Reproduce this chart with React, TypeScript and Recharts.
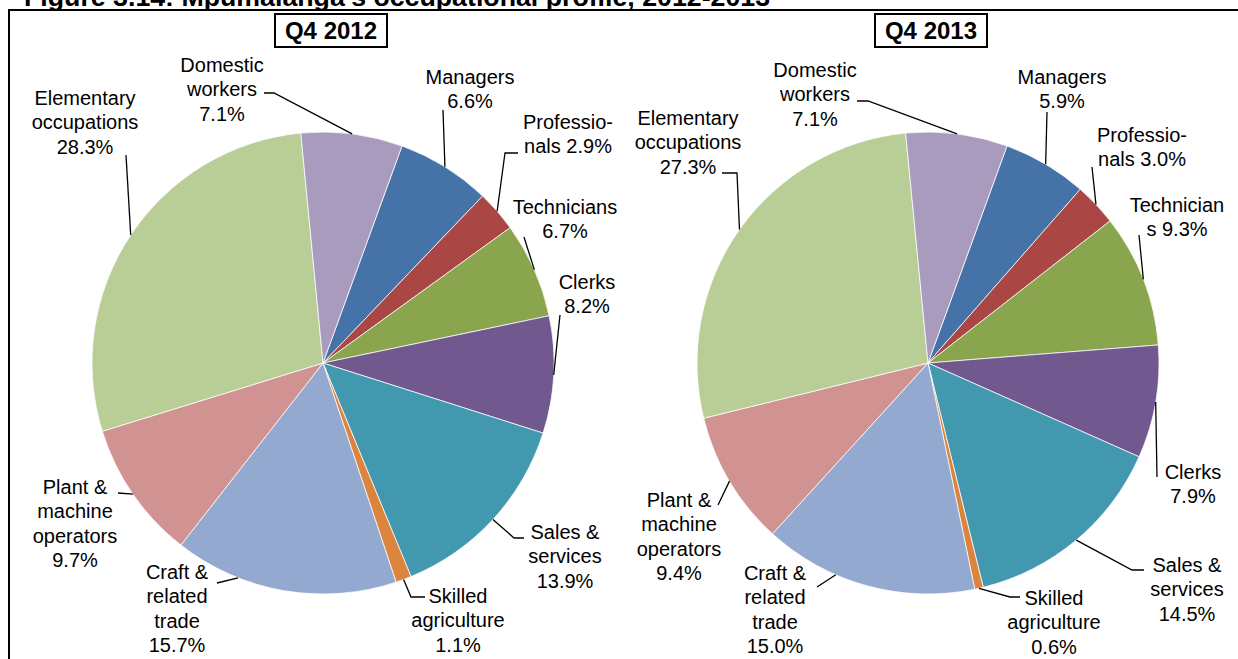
import React from "react";
import { PieChart, Pie, Cell } from "recharts";

// occupation categories, clockwise from the Managers slice
const CATEGORIES = [
  "Managers",
  "Professionals",
  "Technicians",
  "Clerks",
  "Sales & services",
  "Skilled agriculture",
  "Craft & related trade",
  "Plant & machine operators",
  "Elementary occupations",
  "Domestic workers",
];

// share of employment, %
const SHARE_Q4_2012 = [6.6, 2.9, 6.7, 8.2, 13.9, 1.1, 15.7, 9.7, 28.3, 7.1];
const SHARE_Q4_2013 = [5.9, 3.0, 9.3, 7.9, 14.5, 0.6, 15.0, 9.4, 27.3, 7.1];

const PERIODS = ["Q4 2012", "Q4 2013"];
const TITLE = "Figure 3.14: Mpumalanga's occupational profile, 2012-2013";

const COLORS = [
  "#4572A7",
  "#AA4643",
  "#89A54E",
  "#71588F",
  "#4198AF",
  "#DB843D",
  "#93A9CF",
  "#D19392",
  "#B9CD96",
  "#A99BBD",
];

const FONT = '"Liberation Sans", Arial, sans-serif';
const RAD = Math.PI / 180;

type LabelSpec = {
  t: [number, number]; // text centre, relative to pie centre
  lines: string[]; // {v} is replaced by the value
  pts: [number, number][]; // leader line after the slice edge
  a?: number; // shift of the leader start along the edge, degrees clockwise
};

// label placement (offsets from pie centre), one map per pie
const LABELS_2012: LabelSpec[] = [
  { t: [147, -286], lines: ["Managers", "{v}"], pts: [[120, -253]] },
  { t: [245, -241], lines: ["Professio-", "nals {v}"], pts: [[182, -210], [195, -210]] },
  { t: [242, -156], lines: ["Technicians", "{v}"], pts: [[201, -126]] },
  { t: [264, -81], lines: ["Clerks", "{v}"], pts: [[237, -48]] },
  { t: [242, 169], lines: ["Sales &", "services", "{v}"], pts: [[191, 175], [201, 175]] },
  { t: [135, 233], lines: ["Skilled", "agriculture", "{v}"], pts: [[88, 234], [102, 234]] },
  { t: [-146, 209], lines: ["Craft &", "related", "trade", "{v}"], pts: [[-106, 220]], a: 11.8 },
  { t: [-248, 124], lines: ["Plant &", "machine", "operators", "{v}"], pts: [[-205, 130]] },
  { t: [-238, -265], lines: ["Elementary", "occupations", "{v}"], pts: [[-197, -208]] },
  { t: [-101, -298], lines: ["Domestic", "workers", "{v}"], pts: [[-49, -270], [-59, -270]] },
];

const LABELS_2013: LabelSpec[] = [
  { t: [134, -286], lines: ["Managers", "{v}"], pts: [[119, -251]] },
  { t: [214, -228], lines: ["Professio-", "nals {v}"], pts: [[164, -196]] },
  { t: [249, -158], lines: ["Technician", "s {v}"], pts: [[211, -128]] },
  { t: [265, 109], lines: ["Clerks", "{v}"], pts: [[229, 114]] },
  { t: [259, 202], lines: ["Sales &", "services", "{v}"], pts: [[204, 207], [216, 207]] },
  { t: [126, 235], lines: ["Skilled", "agriculture", "{v}"], pts: [[82, 234], [92, 234]] },
  { t: [-153, 210], lines: ["Craft &", "related", "trade", "{v}"], pts: [[-111, 224]], a: 8.2 },
  { t: [-249, 137], lines: ["Plant &", "machine", "operators", "{v}"], pts: [[-210, 142]] },
  { t: [-240, -245], lines: ["Elementary", "occupations", "{v}"], pts: [[-191, -190], [-206, -190]] },
  { t: [-113, -293], lines: ["Domestic", "workers", "{v}"], pts: [[-60, -262], [-71, -262]] },
];

const makeLabel = (specs: LabelSpec[], values: number[]) => (props: any) => {
  const { cx, cy, midAngle, outerRadius, index } = props;
  const spec = specs[index];
  const ang = (midAngle - (spec.a ?? 0)) * RAD;
  const sx = cx + outerRadius * Math.cos(ang);
  const sy = cy - outerRadius * Math.sin(ang);
  const pts = [[sx, sy], ...spec.pts.map(([dx, dy]) => [cx + dx, cy + dy])];
  const tx = cx + spec.t[0];
  const ty = cy + spec.t[1] + 7;
  const v = values[index].toFixed(1) + "%";
  return (
    <g key={`lbl-${index}`}>
      <polyline
        points={pts.map((p) => p.join(",")).join(" ")}
        fill="none"
        stroke="#000"
        strokeWidth={1.3}
      />
      <text x={tx} y={ty} textAnchor="middle" fontFamily={FONT} fontSize={20} fill="#000">
        {spec.lines.map((ln, i) => (
          <tspan key={i} x={tx} dy={i === 0 ? 0 : 24.3}>
            {ln.replace("{v}", v)}
          </tspan>
        ))}
      </text>
    </g>
  );
};

const rows2012 = CATEGORIES.map((name, i) => ({ name, value: SHARE_Q4_2012[i] }));
const rows2013 = CATEGORIES.map((name, i) => ({ name, value: SHARE_Q4_2013[i] }));

const boxStyle = (left: number): React.CSSProperties => ({
  position: "absolute",
  left,
  top: 13,
  width: 114,
  height: 35,
  boxSizing: "border-box",
  border: "2px solid #000",
  background: "#fff",
  fontFamily: FONT,
  fontWeight: 700,
  fontSize: 24,
  lineHeight: "31px",
  textAlign: "center",
  color: "#000",
});

export default function App() {
  return (
    <div
      style={{
        position: "absolute",
        left: 0,
        top: 0,
        width: 1238,
        height: 659,
        overflow: "hidden",
        background: "#fff",
      }}
    >
      <svg width={1238} height={20} style={{ position: "absolute", left: 0, top: 0 }}>
        <text
          x={24}
          y={6}
          fontFamily={FONT}
          fontWeight={700}
          fontSize={26}
          textLength={746}
          lengthAdjust="spacingAndGlyphs"
          fill="#000"
        >
          {TITLE}
        </text>
      </svg>
      <div
        style={{
          position: "absolute",
          left: 8,
          top: 9,
          width: 1260,
          height: 680,
          borderTop: "2px solid #000",
          borderLeft: "2px solid #000",
          background: "#fff",
        }}
      />
      <div style={{ position: "absolute", left: 0, top: 0 }}>
        <PieChart width={1238} height={659} margin={{ top: 0, right: 0, bottom: 0, left: 0 }}>
          <Pie
            data={rows2012}
            dataKey="value"
            nameKey="name"
            cx={323}
            cy={363}
            outerRadius={231}
            startAngle={70}
            endAngle={-290}
            stroke="#fff"
            strokeWidth={0.75}
            labelLine={false}
            label={makeLabel(LABELS_2012, SHARE_Q4_2012)}
            isAnimationActive={false}
          >
            {rows2012.map((r, i) => (
              <Cell key={r.name} fill={COLORS[i]} />
            ))}
          </Pie>
          <Pie
            data={rows2013}
            dataKey="value"
            nameKey="name"
            cx={928}
            cy={363}
            outerRadius={231}
            startAngle={70}
            endAngle={-290}
            stroke="#fff"
            strokeWidth={0.75}
            labelLine={false}
            label={makeLabel(LABELS_2013, SHARE_Q4_2013)}
            isAnimationActive={false}
          >
            {rows2013.map((r, i) => (
              <Cell key={r.name} fill={COLORS[i]} />
            ))}
          </Pie>
        </PieChart>
      </div>
      <div style={boxStyle(274)}>{PERIODS[0]}</div>
      <div style={boxStyle(874)}>{PERIODS[1]}</div>
    </div>
  );
}
